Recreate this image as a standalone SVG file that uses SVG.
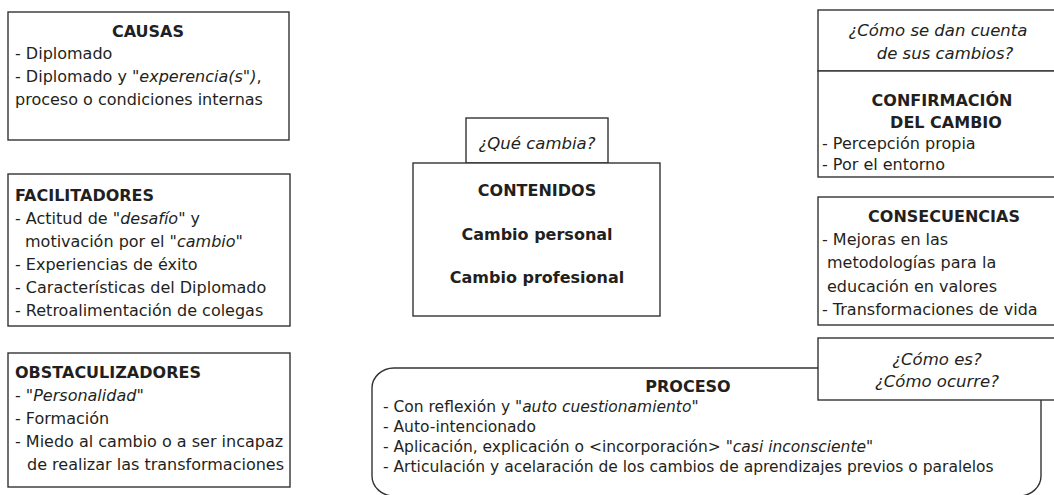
<svg xmlns="http://www.w3.org/2000/svg" width="1054" height="495" viewBox="0 0 1054 495">
<style>
.box{fill:#fff;stroke:#333;stroke-width:1.4}
text{font-family:"DejaVu Sans","Open Sans",sans-serif;font-size:16px;fill:#231f20}
.b{font-weight:bold}
.i{font-style:italic}
.q{font-style:italic;font-size:16.5px}
.c{text-anchor:middle}
.p{font-size:15.5px}
</style>
<rect width="1054" height="495" fill="#fff"/>
<g id="connectors"></g>
<g id="causas">
<rect class="box" x="8" y="12" width="281" height="128"/>
<text class="b c" x="148" y="37">CAUSAS</text>
<text x="15" y="59">- Diplomado</text>
<text x="15" y="82">- Diplomado y "<tspan class="i">experencia(s</tspan>"<tspan class="i">)</tspan>,</text>
<text x="15" y="105">proceso o condiciones internas</text>
</g>
<g id="facilitadores">
<rect class="box" x="8" y="174" width="282" height="152"/>
<text class="b" x="15" y="201">FACILITADORES</text>
<text x="15" y="224">- Actitud de "<tspan class="i">desafío</tspan>" y</text>
<text x="25" y="247">motivación por el "<tspan class="i">cambio</tspan>"</text>
<text x="15" y="270">- Experiencias de éxito</text>
<text x="15" y="293">- Características del Diplomado</text>
<text x="15" y="316">- Retroalimentación de colegas</text>
</g>
<g id="obstaculizadores">
<rect class="box" x="8" y="353" width="282" height="134"/>
<text class="b" x="15" y="378">OBSTACULIZADORES</text>
<text x="15" y="401">- "<tspan class="i">Personalidad</tspan>"</text>
<text x="15" y="424">- Formación</text>
<text x="15" y="447">- Miedo al cambio o a ser incapaz</text>
<text x="27" y="470">de realizar las transformaciones</text>
</g>
<g id="que-cambia">
<rect class="box" x="466" y="118" width="142" height="45"/>
<text class="q c" x="537" y="149">¿Qué cambia?</text>
</g>
<g id="contenidos">
<rect class="box" x="413" y="163" width="247" height="153"/>
<text class="b c" x="537" y="196">CONTENIDOS</text>
<text class="b c" x="537" y="240">Cambio personal</text>
<text class="b c" x="537" y="283">Cambio profesional</text>
</g>
<g id="como-se-dan-cuenta">
<rect class="box" x="818" y="10" width="250" height="61"/>
<text class="q c" x="938" y="36">¿Cómo se dan cuenta</text>
<text class="q c" x="945" y="59">de sus cambios?</text>
</g>
<g id="confirmacion">
<rect class="box" x="818" y="71" width="250" height="106"/>
<text class="b c" x="942" y="106">CONFIRMACIÓN</text>
<text class="b c" x="946" y="128">DEL CAMBIO</text>
<text x="822" y="149">- Percepción propia</text>
<text x="822" y="170">- Por el entorno</text>
</g>
<g id="consecuencias">
<rect class="box" x="818" y="197" width="250" height="128"/>
<text class="b c" x="944" y="222">CONSECUENCIAS</text>
<text x="822" y="245">- Mejoras en las</text>
<text x="827" y="268">metodologías para la</text>
<text x="827" y="292">educación en valores</text>
<text x="822" y="315">- Transformaciones de vida</text>
</g>
<g id="proceso">
<rect class="box" x="372" y="368" width="669" height="128" rx="22" ry="20"/>
<text class="b c" x="688" y="392">PROCESO</text>
<text class="p" x="383" y="412">- Con reflexión y "<tspan class="i">auto cuestionamiento</tspan>"</text>
<text class="p" x="383" y="432">- Auto-intencionado</text>
<text class="p" x="383" y="452">- Aplicación, explicación o &lt;incorporación&gt; "<tspan class="i">casi inconsciente</tspan>"</text>
<text class="p" x="383" y="472">- Articulación y acelaración de los cambios de aprendizajes previos o paralelos</text>
</g>
<g id="como-es">
<rect class="box" x="818" y="338" width="250" height="62"/>
<text class="q c" x="937" y="365">¿Cómo es?</text>
<text class="q c" x="937" y="387">¿Cómo ocurre?</text>
</g>
</svg>
